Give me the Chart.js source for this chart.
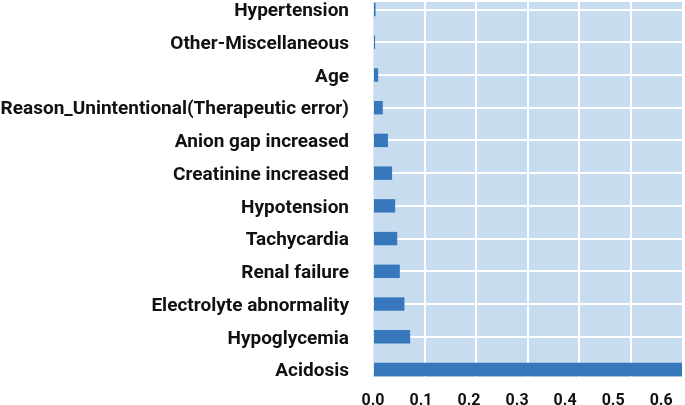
<!DOCTYPE html>
<html>
<head>
<meta charset="utf-8">
<script src="https://cdn.jsdelivr.net/npm/chart.js@4/dist/chart.umd.min.js"></script>
<style>
  html, body { margin: 0; padding: 0; background: #ffffff; }
  #wrap { width: 685px; height: 405px; }
</style>
</head>
<body>
<div id="wrap"><canvas id="importanceChart"></canvas></div>
<script>
// feature names, top to bottom
const features = [
    'Hypertension',
    'Other-Miscellaneous',
    'Age',
    'Reason_Unintentional(Therapeutic error)',
    'Anion gap increased',
    'Creatinine increased',
    'Hypotension',
    'Tachycardia',
    'Renal failure',
    'Electrolyte abnormality',
    'Hypoglycemia',
    'Acidosis'
];
const importance = [0.005, 0.004, 0.010, 0.019, 0.029, 0.037, 0.043, 0.047, 0.052, 0.061, 0.072, 0.65];
const xTickValues = [0.0, 0.1, 0.2, 0.3, 0.4, 0.5, 0.6];

// paint the plot area background before anything else
const plotBackground = {
    id: 'plotBackground',
    beforeDraw(chart) {
        const { ctx, chartArea } = chart;
        ctx.save();
        ctx.fillStyle = '#c7dcee';
        ctx.fillRect(chartArea.left, chartArea.top, chartArea.right - chartArea.left, chartArea.bottom - chartArea.top);
        ctx.restore();
    }
};

const ctx = document.getElementById('importanceChart').getContext('2d');
new Chart(ctx, {
    type: 'bar',
    data: {
        datasets: [{
            data: features.map((name, i) => ({ x: importance[i], y: i })),
            backgroundColor: '#3778bd',
            borderWidth: 0,
            barPercentage: 0.41,
            categoryPercentage: 1.0
        }]
    },
    options: {
        indexAxis: 'y',
        responsive: true,
        maintainAspectRatio: false,
        animation: false,
        layout: { padding: { top: 2, right: 3, left: 0, bottom: 0 } },
        plugins: {
            legend: { display: false },
            tooltip: { enabled: false }
        },
        scales: {
            y: {
                type: 'linear',
                reverse: true,
                offset: false,
                min: -0.23,
                max: features.length - 1 + 0.23,
                border: { display: false },
                grid: { color: '#ffffff', lineWidth: 2, drawTicks: false, offset: false },
                ticks: {
                    stepSize: 1,
                    includeBounds: false,
                    autoSkip: false,
                    padding: 24,
                    labelOffset: 2,
                    color: '#111111',
                    font: { family: 'Roboto', weight: 'bold', size: 19 },
                    callback: v => features[v] || ''
                },
                afterFit: s => {
                    s.width = 373;
                    // labels may reach the canvas edge, like the reference
                    s.paddingTop = 0;
                    s.paddingBottom = 0;
                }
            },
            x: {
                type: 'linear',
                min: 0,
                max: 0.599,
                border: { display: false },
                grid: {
                    color: c => c.tick && c.tick.value === 0 ? 'rgba(255,255,255,0.35)' : '#ffffff',
                    lineWidth: 2,
                    drawTicks: false
                },
                ticks: { stepSize: 0.1, includeBounds: false, display: false },
                afterFit: s => { s.height = 0; }
            },
            // tick labels sit on their own axis, as in the reference they drift from the grid
            xLabels: {
                type: 'linear',
                axis: 'x',
                position: 'bottom',
                min: 0,
                max: 0.6434,
                border: { display: false },
                grid: { display: false, drawTicks: false },
                ticks: {
                    stepSize: 0.1,
                    includeBounds: false,
                    autoSkip: false,
                    maxRotation: 0,
                    padding: 14,
                    color: '#111111',
                    font: { family: 'Roboto', weight: 'bold', size: 16 },
                    callback: v => xTickValues.includes(Math.round(v * 10) / 10) ? v.toFixed(1) : ''
                },
                afterFit: s => {
                    s.height = 28;
                    s.paddingLeft = 0;
                    s.paddingRight = 0;
                }
            }
        }
    },
    plugins: [plotBackground]
});
</script>
</body>
</html>
